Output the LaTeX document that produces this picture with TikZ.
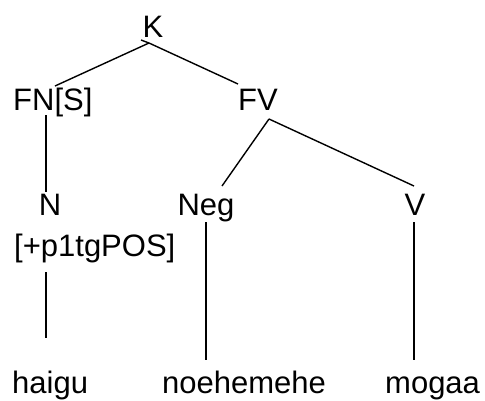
\documentclass[tikz,border=0pt]{standalone}
\usepackage{fontspec}
\setmainfont{Liberation Sans}
\begin{document}
\begin{tikzpicture}[x=1pt,y=-1pt,
  lbl/.style={inner sep=0pt,anchor=base,font=\fontsize{31}{31}\selectfont},
  lbll/.style={lbl,anchor=base west},
  edge/.style={line width=1.4pt}]
\useasboundingbox (0,0) rectangle (485,400);
\node[lbl] (K) at (153,37) {K};
\node[lbll] (FN) at (13,110) {FN[S]};
\node[lbl] (FV) at (258,110) {FV};
\node[lbl] (N) at (50,215) {N};
\node[lbll] (Nf) at (14,256) {[+p1tgPOS]};
\node[lbl] (Neg) at (206,215) {Neg};
\node[lbl] (V) at (415,215) {V};
\node[lbll] (w1) at (12,393) {haigu};
\node[lbll] (w2) at (162,393) {noehemehe};
\node[lbll] (w3) at (385,393) {mogaa};
% connector end points
\coordinate (Kt) at (141,40);
\coordinate (Kb) at (149,43);
\coordinate (FNt) at (55,86);
\coordinate (FVt) at (238,84);
\coordinate (FNb) at (46,115);
\coordinate (Nt) at (46,192);
\coordinate (FVb) at (269,119);
\coordinate (Negt) at (222,186);
\coordinate (Vt) at (414,186);
\coordinate (Nfb) at (46,272);
\coordinate (w1t) at (46,338);
\coordinate (Negb) at (206,222);
\coordinate (w2t) at (206,360);
\coordinate (Vb) at (414,222);
\coordinate (w3t) at (414,360);
\draw[edge] (Kt) -- (Kb);
\draw[edge] (Kb) -- (FNt);
\draw[edge] (Kb) -- (FVt);
\draw[edge] (FNb) -- (Nt);
\draw[edge] (FVb) -- (Negt);
\draw[edge] (FVb) -- (Vt);
\draw[edge] (Nfb) -- (w1t);
\draw[edge] (Negb) -- (w2t);
\draw[edge] (Vb) -- (w3t);
\end{tikzpicture}
\end{document}
